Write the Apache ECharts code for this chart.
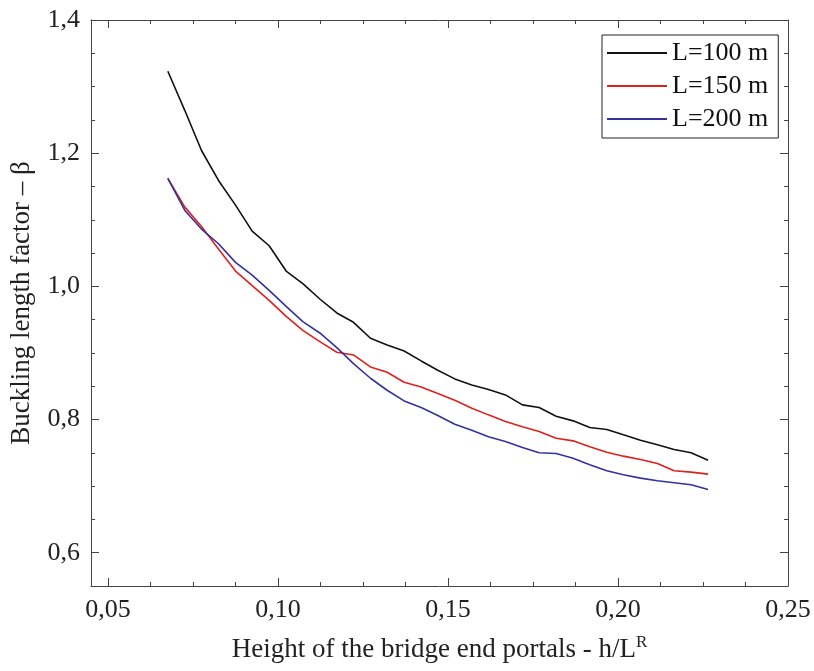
<!DOCTYPE html>
<html><head><meta charset="utf-8">
<script src="https://cdn.jsdelivr.net/npm/echarts@6/dist/echarts.min.js"></script>
<style>html,body{margin:0;padding:0;background:#fff}#c{width:814px;height:671px}</style>
</head><body><div id="c"></div>
<script>
// ---- data ----
const hOverL = [0.0676,0.0726,0.0775,0.0825,0.0875,0.0924,0.0974,0.1024,0.1073,0.1123,0.1173,0.1222,0.1272,0.1321,0.1371,0.1421,0.1470,0.1520,0.1570,0.1619,0.1669,0.1719,0.1768,0.1818,0.1868,0.1917,0.1967,0.2016,0.2066,0.2116,0.2165,0.2215,0.2265];
const beta100 = [1.323,1.264,1.204,1.159,1.122,1.083,1.061,1.023,1.004,0.981,0.960,0.946,0.922,0.912,0.903,0.888,0.874,0.861,0.852,0.845,0.837,0.822,0.818,0.805,0.798,0.788,0.785,0.777,0.769,0.762,0.755,0.750,0.739];
const beta150 = [1.162,1.119,1.090,1.056,1.023,1.001,0.979,0.955,0.934,0.917,0.901,0.897,0.879,0.871,0.856,0.849,0.839,0.829,0.817,0.807,0.797,0.789,0.782,0.772,0.768,0.759,0.751,0.745,0.740,0.734,0.723,0.721,0.718];
const beta200 = [1.162,1.114,1.086,1.064,1.036,1.017,0.994,0.970,0.947,0.930,0.908,0.884,0.862,0.844,0.828,0.818,0.806,0.793,0.784,0.774,0.767,0.758,0.750,0.749,0.742,0.732,0.723,0.717,0.712,0.708,0.705,0.702,0.695];
const seriesNames = ['L=100 m','L=150 m','L=200 m'];
const xMajorTicks = [0.05,0.10,0.15,0.20,0.25];
const xMinorTicks = [0.0625,0.075,0.0875,0.1125,0.125,0.1375,0.1625,0.175,0.1875,0.2125,0.225,0.2375];
const yMajorTicks = [0.6,0.8,1.0,1.2,1.4];
const yMinorTicks = [0.65,0.7,0.75,0.85,0.9,0.95,1.05,1.1,1.15,1.25,1.3,1.35];
const xTitle = 'Height of the bridge end portals - h/L';
const xTitleSup = 'R';
const yTitle = 'Buckling length factor \u2013 \u03b2';

// ---- chart ----
const FONT = '"Liberation Serif", "Times New Roman", serif';
const AXIS_COLOR = '#444';
const X_MIN = 0.045, X_MAX = 0.25, Y_MIN = 0.55, Y_MAX = 1.4;
const fmt = (d) => (v) => Number(v).toFixed(d).replace('.', ',');

function xAx(pos, ticks, len, opts) {
  return Object.assign({
    type: 'value', position: pos, min: X_MIN, max: X_MAX, gridIndex: 0,
    axisLine: {show: true, onZero: false, lineStyle: {color: AXIS_COLOR, width: 1}},
    axisTick: {show: true, inside: true, length: len, customValues: ticks, lineStyle: {color: AXIS_COLOR, width: 1}},
    axisLabel: {show: false},
    splitLine: {show: false}
  }, opts || {});
}
function yAx(pos, ticks, len, opts) {
  return Object.assign({
    type: 'value', position: pos, min: Y_MIN, max: Y_MAX, gridIndex: 0,
    axisLine: {show: true, onZero: false, lineStyle: {color: AXIS_COLOR, width: 1}},
    axisTick: {show: true, inside: true, length: len, customValues: ticks, lineStyle: {color: AXIS_COLOR, width: 1}},
    axisLabel: {show: false},
    splitLine: {show: false}
  }, opts || {});
}

const chart = echarts.init(document.getElementById('c'), null, {renderer: 'canvas'});
const option = {
  backgroundColor: '#fff',
  animation: false,
  color: ['#111111', '#e0201c', '#33339f'],
  textStyle: {fontFamily: FONT},
  grid: {left: 91, right: 26, top: 20, bottom: 85, containLabel: false},
  legend: {
    orient: 'vertical', left: 602, top: 35,
    padding: [5, 10, 6, 5], itemGap: 7, itemWidth: 60, itemHeight: 2, icon: 'rect',
    borderColor: '#222', borderWidth: 1, backgroundColor: '#fff',
    textStyle: {fontFamily: FONT, fontSize: 26, color: '#111'},
    data: seriesNames
  },
  xAxis: [
    xAx('bottom', xMajorTicks, 8, {
      axisLabel: {show: true, customValues: xMajorTicks, formatter: fmt(2), fontFamily: FONT, fontSize: 26, color: '#222', margin: 11},
      name: xTitle + '{sup|' + xTitleSup + '}', nameLocation: 'middle', nameGap: 48,
      nameTextStyle: {fontFamily: FONT, fontSize: 27, color: '#222', lineHeight: 31,
        rich: {sup: {fontFamily: FONT, fontSize: 17, color: '#222', lineHeight: 17, verticalAlign: 'top'}}}
    }),
    xAx('top', xMajorTicks, 8),
    xAx('bottom', xMinorTicks, 4, {axisLine: {show: false}}),
    xAx('top', xMinorTicks, 4, {axisLine: {show: false}})
  ],
  yAxis: [
    yAx('left', yMajorTicks, 8, {
      axisLabel: {show: true, customValues: yMajorTicks, formatter: fmt(1), fontFamily: FONT, fontSize: 26, color: '#222', margin: 11},
      name: yTitle, nameLocation: 'middle', nameGap: 56,
      nameTextStyle: {fontFamily: FONT, fontSize: 27, color: '#222', padding: [0, 0, 0, 0]}
    }),
    yAx('right', yMajorTicks, 8),
    yAx('left', yMinorTicks, 4, {axisLine: {show: false}}),
    yAx('right', yMinorTicks, 4, {axisLine: {show: false}})
  ],
  series: [beta100, beta150, beta200].map((vals, k) => ({
    name: seriesNames[k], type: 'line', xAxisIndex: 0, yAxisIndex: 0,
    showSymbol: false, symbol: 'none', smooth: false,
    lineStyle: {width: 1.6},
    data: hOverL.map((x, i) => [x, vals[i]])
  }))
};
chart.setOption(option);
</script>
</body></html>
